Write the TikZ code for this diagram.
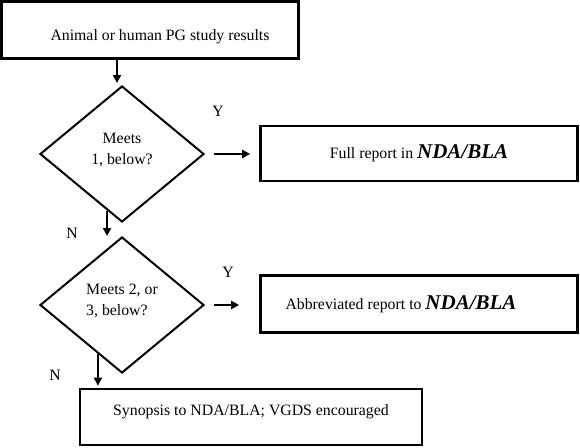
\documentclass[tikz,border=0pt]{standalone}
\usepackage{fontspec}
\setmainfont{Liberation Serif}
\usetikzlibrary{shapes.geometric,arrows.meta,calc}
\newcommand{\ndabla}{{\fontsize{21}{21}\selectfont\bfseries\itshape NDA/BLA}}
\tikzset{
  box/.style={draw,line width=2.6pt,minimum width=#1,minimum height=56pt,inner sep=0pt},
  dec/.style={draw,diamond,line width=2pt,minimum width=164pt,minimum height=136pt,inner sep=0pt},
  arr/.style={line width=2.6pt,-{Triangle[length=8pt,width=8pt]}}
}
\begin{document}
\begin{tikzpicture}[x=1pt,y=-1pt,font=\fontsize{15.8}{21.5}\selectfont]
  \useasboundingbox (0,0) rectangle (580,447);
  % 方框
  \node[box=297pt,minimum height=57pt] (start) at (150,30)
    {\hspace{20pt}\rule{0pt}{24pt}Animal or human PG study results};
  \node[box=317pt,minimum height=55pt] (full) at (419,153.3) {Full report in \ndabla};
  \node[box=317pt,minimum height=57pt] (abbr) at (419,304) {Abbreviated report to \ndabla\hspace{36pt}\mbox{}};
  \node[box=342pt] (syn) at (251,417) {\rule[-14pt]{0pt}{14pt}Synopsis to NDA/BLA; VGDS encouraged};
  % 菱形：判断
  \node[dec,align=center] (d1) at (122,154) {Meets\\1, below?\rule[-10pt]{0pt}{0pt}};
  \node[dec,align=left] (d2) at (122,305) {Meets 2, or\\3, below?\rule[-10pt]{0pt}{0pt}};
  % 箭头
  \draw[arr] ($(d1.north |- start.south)+(-5,0)$) -- ($(d1.north)+(-5,-2)$);
  \draw[arr] ($(d1.east)+(9,0)$) -- ($(d1.east -| full.west)+(-9,0)$);
  \draw[arr] ($(d2.east)+(9,0)$) -- ($(d2.east -| abbr.west)+(-20,0)$);
  \coordinate (n1) at ($(d1.south)!0.18!(d1.west)$);
  \coordinate (n2) at ($(d2.south)!0.29!(d2.west)$);
  \draw[arr] (n1) -- (n1 |- d2.north);
  \draw[arr] (n2) -- ($(n2 |- syn.north)+(0,-2)$);
  % Y / N 标记
  \foreach \lbl/\px/\py in {Y/218/111, N/72/233, Y/228/272, N/55/375}
    \node (yn\px) at (\px,\py) {\lbl};
\end{tikzpicture}
\end{document}
